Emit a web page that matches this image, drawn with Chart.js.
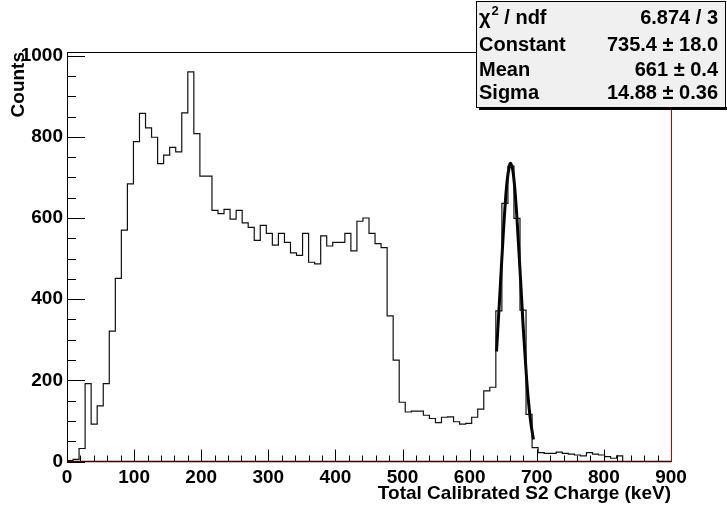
<!DOCTYPE html>
<html>
<head>
<meta charset="utf-8">
<script src="https://cdn.jsdelivr.net/npm/chart.js@4.4.1/dist/chart.umd.min.js"></script>
<style>
  html, body { margin: 0; padding: 0; background: #fff; }
  #wrap { position: relative; width: 727px; height: 508px; }
</style>
</head>
<body>
<div id="wrap"><canvas id="histChart"></canvas></div>
<script>
// histogram: 100 bins of 9 keV from 0 to 900
const binWidth = 9;
const counts = [
    2, 5, 32, 192, 92, 137, 192, 321, 451, 570,
    684, 788, 858, 822, 799, 734, 755, 774, 763, 859,
    960, 808, 703, 703, 619, 611, 621, 597, 619, 588,
    577, 545, 582, 562, 533, 562, 540, 514, 508, 562,
    491, 487, 556, 531, 540, 540, 562, 519, 592, 600,
    562, 537, 527, 359, 250, 146, 122, 124, 124, 114,
    106, 96, 109, 110, 98, 92, 94, 109, 129, 174,
    183, 371, 636, 728, 599, 373, 116, 34, 22, 20,
    20, 23, 20, 18, 16, 14, 22, 18, 16, 12,
    8, 14, 0, 0, 0, 0, 0, 0, 0, 0
];

// gaussian fit curve
const fitX = [640, 645, 650, 655, 660, 661, 665, 670, 675, 680, 685, 690, 695];
const fitY = [271, 412, 559, 678, 733, 735, 709, 612, 472, 325, 200, 110, 54];

const xTicks = [0, 100, 200, 300, 400, 500, 600, 700, 800, 900];
const yTicks = [0, 200, 400, 600, 800, 1000];

const statNames = ['χ', 'Constant', 'Mean', 'Sigma'];
const statValues = ['6.874 / 3', '735.4 ± 18.0', '661 ± 0.4', '14.88 ± 0.36'];

const xTitle = 'Total Calibrated S2 Charge (keV)';
const yTitle = 'Counts';

const FONT = '"Liberation Sans", Arial, Helvetica, sans-serif';

const histPoints = counts.map((c, i) => ({x: i * binWidth, y: c}));
histPoints.push({x: counts.length * binWidth, y: 0});
const fitPoints = fitX.map((v, i) => ({x: v, y: fitY[i]}));

// ROOT-like ticks, frame and stats box
const rootFrame = {
    id: 'rootFrame',
    afterDatasetsDraw(chart) {
        const {ctx, chartArea: a, scales: {x, y}} = chart;
        ctx.save();
        ctx.strokeStyle = '#000';
        ctx.lineWidth = 1;
        ctx.beginPath();
        for (let v = 0; v <= 1000; v += 50) {
            const py = Math.round(y.getPixelForValue(v)) + 0.5;
            const len = v % 200 === 0 ? 18 : 9;
            ctx.moveTo(a.left, py);
            ctx.lineTo(a.left + len, py);
        }
        for (let v = 0; v <= 900; v += 20) {
            const px = Math.round(x.getPixelForValue(v)) + 0.5;
            const len = v % 100 === 0 ? 12 : 6;
            ctx.moveTo(px, a.bottom);
            ctx.lineTo(px, a.bottom - len);
        }
        // top and left frame
        ctx.moveTo(a.left, Math.round(a.top) + 0.5);
        ctx.lineTo(a.right, Math.round(a.top) + 0.5);
        ctx.moveTo(Math.round(a.left) + 0.5, a.top);
        ctx.lineTo(Math.round(a.left) + 0.5, a.bottom);
        ctx.stroke();

        // red lines at x = 900 and y = 0
        ctx.strokeStyle = '#c00000';
        ctx.beginPath();
        const rx = Math.round(x.getPixelForValue(900)) + 0.5;
        ctx.moveTo(rx, a.top);
        ctx.lineTo(rx, a.bottom);
        ctx.stroke();
        ctx.strokeStyle = '#3a0000';
        ctx.lineWidth = 1.5;
        ctx.beginPath();
        ctx.moveTo(a.left, a.bottom);
        ctx.lineTo(rx, a.bottom);
        ctx.stroke();
        ctx.restore();
    },
    afterDraw(chart) {
        const {ctx} = chart;
        const x0 = 476, y0 = 1, x1 = 726, y1 = 107;
        ctx.save();
        ctx.fillStyle = '#000';
        ctx.fillRect(x0 + 3, y1, x1 - x0, 3);
        ctx.fillStyle = '#f0f0f0';
        ctx.fillRect(x0, y0, x1 - x0, y1 - y0);
        ctx.strokeStyle = '#000';
        ctx.lineWidth = 1;
        ctx.strokeRect(x0 + 0.5, y0 + 0.5, x1 - x0 - 1, y1 - y0);

        const rowsY = [18, 45, 70, 93];
        ctx.fillStyle = '#000';
        ctx.textBaseline = 'middle';
        ctx.font = 'bold 20px ' + FONT;
        statNames.forEach((name, i) => {
            ctx.textAlign = 'left';
            if (i === 0) {
                ctx.fillText(name, 479, rowsY[i]);
                const w = ctx.measureText(name).width;
                ctx.font = 'bold 13px ' + FONT;
                ctx.fillText('2', 479 + w + 1, rowsY[i] - 7);
                const w2 = ctx.measureText('2').width;
                ctx.font = 'bold 20px ' + FONT;
                ctx.fillText(' / ndf', 479 + w + w2 + 1, rowsY[i]);
            } else {
                ctx.fillText(name, 479, rowsY[i]);
            }
            ctx.textAlign = 'right';
            ctx.fillText(statValues[i], 718, rowsY[i]);
        });
        ctx.restore();
    }
};

const ctx = document.getElementById('histChart').getContext('2d');
new Chart(ctx, {
    type: 'line',
    data: {
        datasets: [{
            data: histPoints,
            borderColor: '#111',
            borderWidth: 1.2,
            stepped: 'before',
            pointRadius: 0,
            fill: false
        }, {
            data: fitPoints,
            borderColor: '#000',
            borderWidth: 3,
            cubicInterpolationMode: 'monotone',
            pointRadius: 0,
            fill: false
        }]
    },
    options: {
        responsive: true,
        maintainAspectRatio: false,
        animation: false,
        events: [],
        layout: {
            padding: {left: 0, top: 52, right: 56, bottom: 0}
        },
        plugins: {
            legend: { display: false },
            tooltip: { enabled: false }
        },
        scales: {
            x: {
                type: 'linear',
                min: 0,
                max: 900,
                afterFit: (s) => { s.height = 46.5; },
                afterBuildTicks: (s) => { s.ticks = xTicks.map(v => ({value: v})); },
                grid: { display: false, drawTicks: false },
                border: { display: false },
                ticks: {
                    padding: 5,
                    maxRotation: 0,
                    autoSkip: false,
                    color: '#000',
                    callback: (v) => String(v),
                    font: { family: FONT, size: 19, weight: 'bold' }
                },
                title: {
                    display: true,
                    text: xTitle,
                    align: 'end',
                    color: '#000',
                    padding: { top: 0, bottom: 3 },
                    font: { family: FONT, size: 19, weight: 'bold' }
                }
            },
            y: {
                type: 'linear',
                min: 0,
                max: 1009,
                afterFit: (s) => { s.width = 67; },
                afterBuildTicks: (s) => { s.ticks = yTicks.map(v => ({value: v})); },
                grid: { display: false, drawTicks: false },
                border: { display: false },
                ticks: {
                    padding: 4,
                    autoSkip: false,
                    color: '#000',
                    callback: (v) => String(v),
                    font: { family: FONT, size: 19, weight: 'bold' }
                },
                title: {
                    display: true,
                    text: yTitle,
                    align: 'end',
                    color: '#000',
                    padding: { top: 7, bottom: 0 },
                    font: { family: FONT, size: 19, weight: 'bold' }
                }
            }
        }
    },
    plugins: [rootFrame]
});
</script>
</body>
</html>
